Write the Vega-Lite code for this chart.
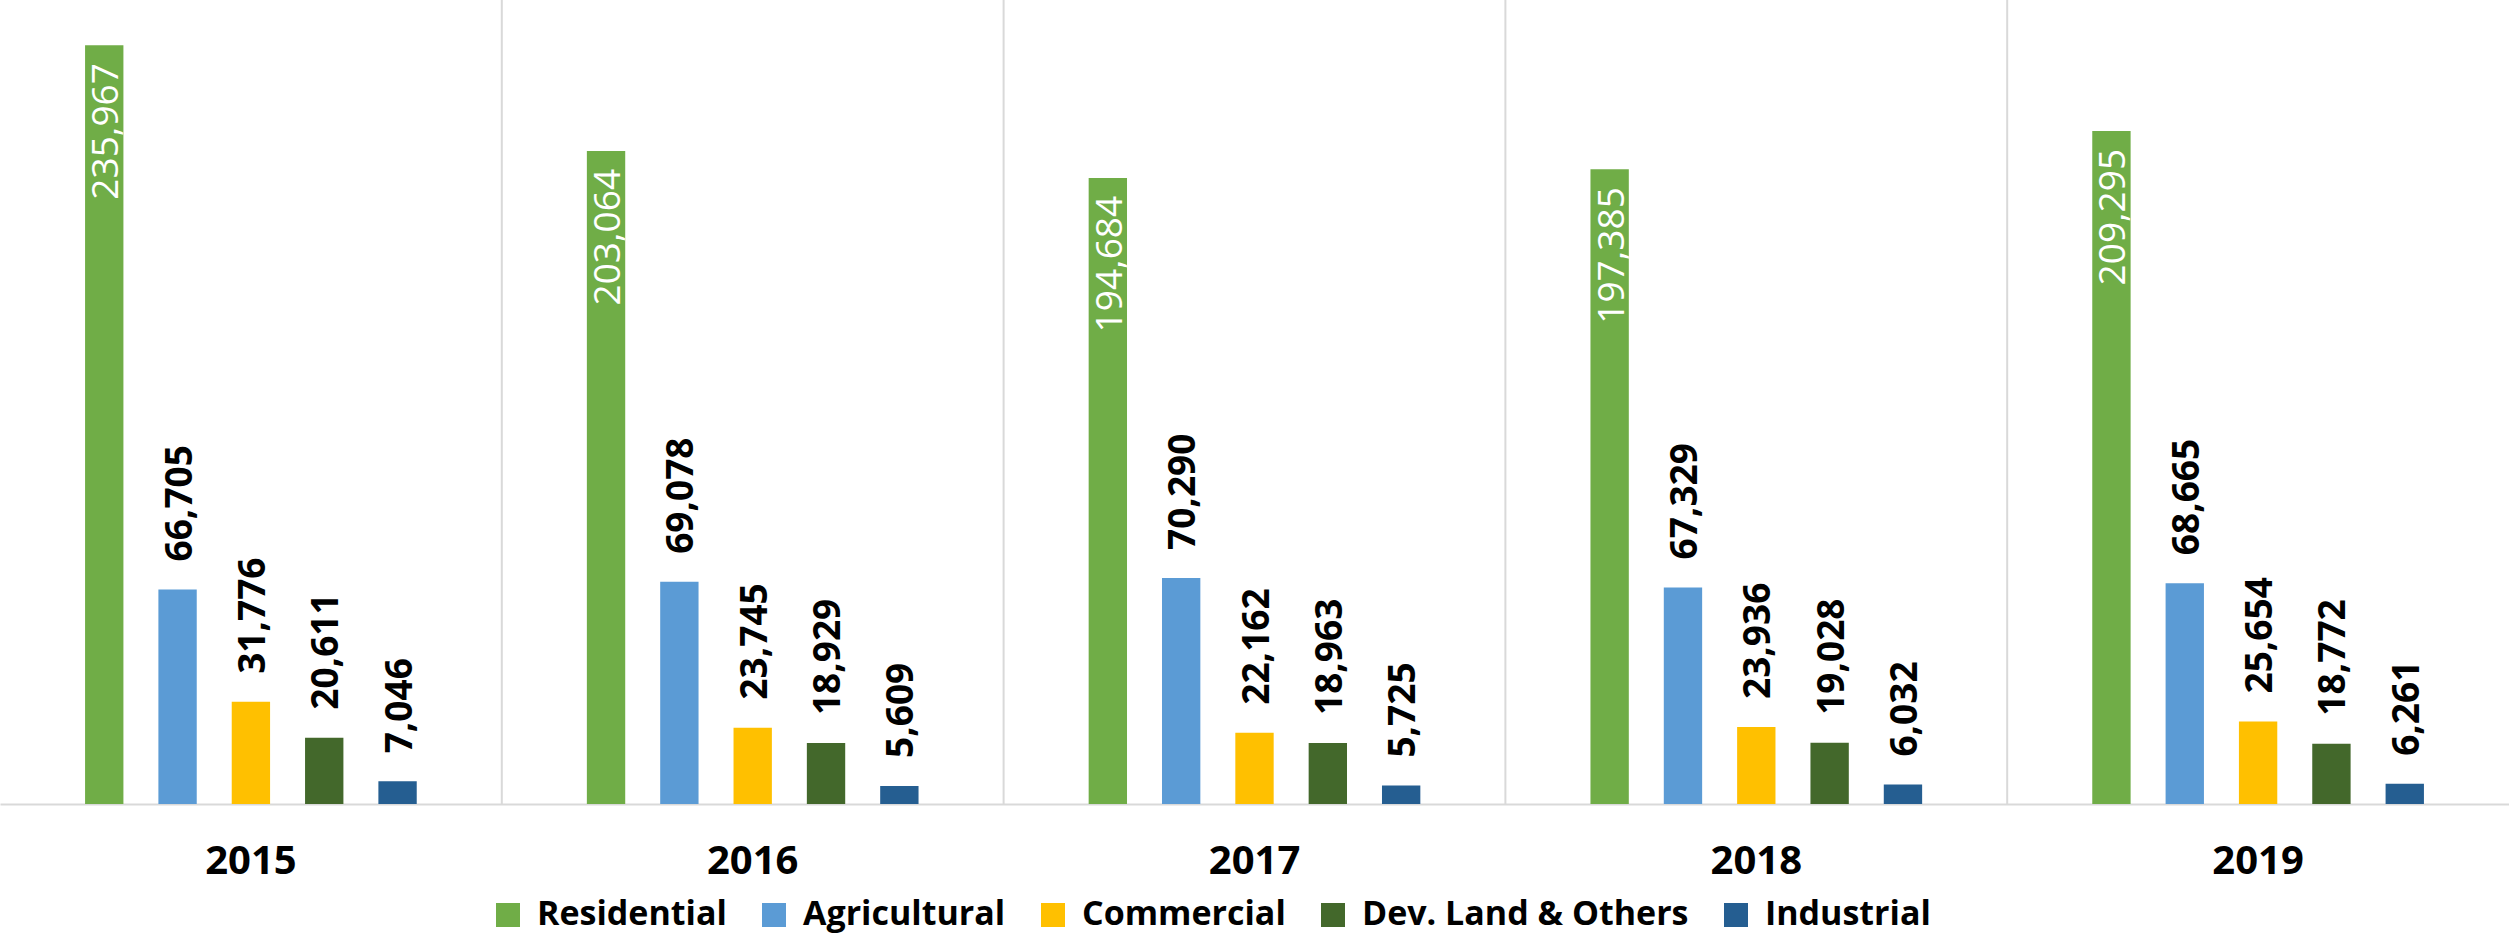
{
  "$schema": "https://vega.github.io/schema/vega-lite/v6.json",
  "width": 2509,
  "height": 804,
  "autosize": {"type": "none"},
  "padding": {"left": 0, "top": 0, "right": 0, "bottom": 133},
  "background": "white",
  "config": {"view": {"stroke": null}},
  "data": {
    "values": [
      {"year": "2015", "category": "Residential", "value": 235967},
      {"year": "2015", "category": "Agricultural", "value": 66705},
      {"year": "2015", "category": "Commercial", "value": 31776},
      {"year": "2015", "category": "Dev. Land & Others", "value": 20611},
      {"year": "2015", "category": "Industrial", "value": 7046},
      {"year": "2016", "category": "Residential", "value": 203064},
      {"year": "2016", "category": "Agricultural", "value": 69078},
      {"year": "2016", "category": "Commercial", "value": 23745},
      {"year": "2016", "category": "Dev. Land & Others", "value": 18929},
      {"year": "2016", "category": "Industrial", "value": 5609},
      {"year": "2017", "category": "Residential", "value": 194684},
      {"year": "2017", "category": "Agricultural", "value": 70290},
      {"year": "2017", "category": "Commercial", "value": 22162},
      {"year": "2017", "category": "Dev. Land & Others", "value": 18963},
      {"year": "2017", "category": "Industrial", "value": 5725},
      {"year": "2018", "category": "Residential", "value": 197385},
      {"year": "2018", "category": "Agricultural", "value": 67329},
      {"year": "2018", "category": "Commercial", "value": 23936},
      {"year": "2018", "category": "Dev. Land & Others", "value": 19028},
      {"year": "2018", "category": "Industrial", "value": 6032},
      {"year": "2019", "category": "Residential", "value": 209295},
      {"year": "2019", "category": "Agricultural", "value": 68665},
      {"year": "2019", "category": "Commercial", "value": 25654},
      {"year": "2019", "category": "Dev. Land & Others", "value": 18772},
      {"year": "2019", "category": "Industrial", "value": 6261}
    ]
  },
  "layer": [
    {
      "transform": [{"filter": "datum.category === 'Residential' && datum.year !== '2015'"}],
      "mark": {"type": "rule", "color": "#d9d9d9", "strokeWidth": 2},
      "encoding": {
        "x": {"field": "year", "type": "nominal", "bandPosition": 0,
              "scale": {"paddingInner": 0, "paddingOuter": 0},
              "axis": {"title": null, "domainColor": "#d9d9d9", "domainWidth": 2, "ticks": false, "tickSize": 0,
                       "labelAngle": 0, "labelFont": "Open Sans", "labelFontWeight": "bold", "labelFontSize": 40,
                       "labelColor": "#000000", "labelBaseline": "alphabetic", "labelPadding": 69, "grid": false}}
      }
    },
    {
      "mark": {"type": "bar"},
      "encoding": {
        "x": {"field": "year", "type": "nominal", "scale": {"paddingInner": 0, "paddingOuter": 0}},
        "xOffset": {"field": "category", "type": "nominal",
                    "scale": {"domain": ["pad-start", "Residential", "Agricultural", "Commercial", "Dev. Land & Others", "Industrial", "pad-end"],
                              "paddingInner": 0.477, "paddingOuter": 0.16}},
        "y": {"field": "value", "type": "quantitative", "scale": {"domain": [0, 250000], "nice": false, "zero": true}, "axis": null},
        "color": {"field": "category", "type": "nominal",
                  "scale": {"domain": ["Residential", "Agricultural", "Commercial", "Dev. Land & Others", "Industrial"],
                            "range": ["#70AD47", "#5B9BD5", "#FFC000", "#43682B", "#255E91"]},
                  "legend": {"title": null, "orient": "none", "legendX": 491, "legendY": 898, "direction": "horizontal",
                             "symbolType": "square", "symbolSize": 576, "symbolStrokeWidth": 0, "symbolOpacity": 1,
                             "labelFont": "Open Sans", "labelFontWeight": "bold", "labelFontSize": 34, "labelColor": "#000000",
                             "labelLimit": 0, "columnPadding": 30, "labelOffset": 12, "padding": 0, "rowPadding": 0}}
      }
    },
    {
      "transform": [{"filter": "datum.category !== 'Residential'"}],
      "mark": {"type": "text", "angle": 270, "align": "left", "baseline": "middle", "dx": 28, "dy": 3,
               "font": "Open Sans", "fontWeight": "bold", "fontSize": 37, "fill": "#000000"},
      "encoding": {
        "x": {"field": "year", "type": "nominal", "scale": {"paddingInner": 0, "paddingOuter": 0}},
        "xOffset": {"field": "category", "type": "nominal",
                    "scale": {"domain": ["pad-start", "Residential", "Agricultural", "Commercial", "Dev. Land & Others", "Industrial", "pad-end"],
                              "paddingInner": 0.477, "paddingOuter": 0.16}},
        "y": {"field": "value", "type": "quantitative", "scale": {"domain": [0, 250000], "nice": false, "zero": true}},
        "text": {"field": "value", "type": "quantitative", "format": ","}
      }
    },
    {
      "transform": [{"filter": "datum.category === 'Residential'"}],
      "mark": {"type": "text", "angle": 270, "align": "right", "baseline": "middle", "dx": -18, "dy": 3,
               "font": "Open Sans", "fontWeight": "normal", "fontSize": 37, "fill": "#ffffff"},
      "encoding": {
        "x": {"field": "year", "type": "nominal", "scale": {"paddingInner": 0, "paddingOuter": 0}},
        "xOffset": {"field": "category", "type": "nominal",
                    "scale": {"domain": ["pad-start", "Residential", "Agricultural", "Commercial", "Dev. Land & Others", "Industrial", "pad-end"],
                              "paddingInner": 0.477, "paddingOuter": 0.16}},
        "y": {"field": "value", "type": "quantitative", "scale": {"domain": [0, 250000], "nice": false, "zero": true}},
        "text": {"field": "value", "type": "quantitative", "format": ","}
      }
    }
  ]
}
